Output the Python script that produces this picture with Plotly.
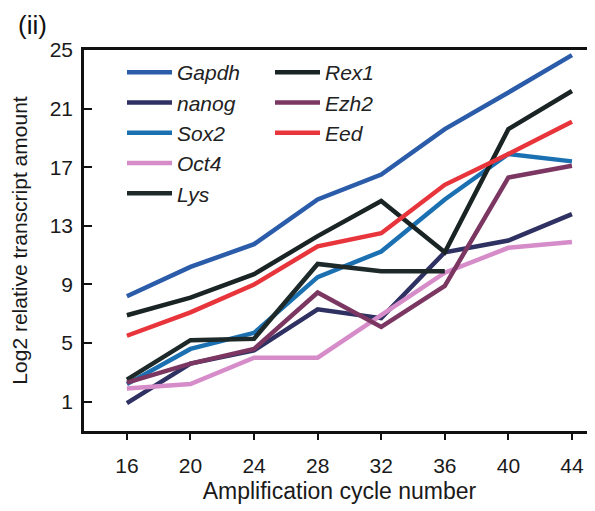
import plotly.graph_objects as go

cycles = [16, 20, 24, 28, 32, 36, 40, 44]
gapdh = [8.2, 10.2, 11.75, 14.8, 16.5, 19.6, 22.1, 24.65]
nanog = [0.9, 3.6, 4.5, 7.3, 6.7, 11.2, 12.0, 13.8]
sox2 = [2.2, 4.6, 5.7, 9.5, 11.25, 14.8, 17.9, 17.4]
oct4 = [1.9, 2.2, 4.0, 4.0, 6.9, 9.8, 11.5, 11.9]
lys = [2.5, 5.2, 5.3, 10.4, 9.9, 9.9]
rex1 = [6.9, 8.1, 9.7, 12.3, 14.7, 11.2, 19.6, 22.2]
ezh2 = [2.3, 3.6, 4.6, 8.45, 6.1, 8.9, 16.3, 17.1]
eed = [5.5, 7.1, 9.0, 11.6, 12.5, 15.8, 17.9, 20.1]

y_ticks = [1, 5, 9, 13, 17, 21, 25]

series = [
    ("Gapdh", cycles, gapdh, "#2B5CAA", "legend"),
    ("nanog", cycles, nanog, "#2F3163", "legend"),
    ("Sox2", cycles, sox2, "#1B70B2", "legend"),
    ("Oct4", cycles, oct4, "#D68CC8", "legend"),
    ("Lys", cycles[:len(lys)], lys, "#1E2A2A", "legend"),
    ("Rex1", cycles, rex1, "#1A2424", "legend2"),
    ("Ezh2", cycles, ezh2, "#7B3762", "legend2"),
    ("Eed", cycles, eed, "#E8343B", "legend2"),
]

fig = go.Figure()
for name, xs, ys, col, lg in series:
    fig.add_trace(go.Scatter(x=xs, y=ys, mode="lines", name=name,
                             line=dict(color=col, width=4.5), legend=lg))

font_family = "Liberation Sans, Arial, sans-serif"
legend_common = dict(
    bgcolor="rgba(0,0,0,0)", borderwidth=0,
    font=dict(family=font_family, size=21, color="#222", style="italic"),
    orientation="v", tracegroupgap=0, itemwidth=45,
    xanchor="left", yanchor="top", traceorder="normal",
)

# The page body has an 8px margin; figure sized to fit the 595x511 window.
# plot area in window: x 84..595, y 50..431  -> in figure: x 76..587, y 42..423
PW, PH = 511, 381
fig.update_layout(
    width=587, height=503,
    margin=dict(l=76, r=0, t=42, b=80),
    paper_bgcolor="white", plot_bgcolor="white",
    font=dict(family=font_family, size=21, color="#1a1a1a"),
    showlegend=True,
    legend=dict(x=(122 - 84) / PW, y=1 - (52 - 50) / PH, **legend_common),
    legend2=dict(x=(270 - 84) / PW, y=1 - (52 - 50) / PH, **legend_common),
    xaxis=dict(
        range=[13.3, 45.45], tickvals=cycles, ticks="outside", ticklen=6,
        tickwidth=1.5, tickcolor="#111", showline=True, linecolor="#111",
        linewidth=2.5, mirror=True, showgrid=False, zeroline=False,
        ticklabelstandoff=8, tickfont=dict(size=21), automargin=False,
        title=dict(text="Amplification cycle number", font=dict(size=23), standoff=7),
    ),
    yaxis=dict(
        range=[-1, 25], tickvals=y_ticks, ticks="inside", ticklen=8,
        tickwidth=1.5, tickcolor="#111", showline=True, linecolor="#111",
        linewidth=2.5, showgrid=False, zeroline=False, automargin=False,
        tickfont=dict(size=21), ticklabelstandoff=4,
        title=dict(text="Log2 relative transcript amount", font=dict(size=21), standoff=21),
    ),
    annotations=[dict(text="(ii)", x=(16 - 84) / PW, y=1 + (50 - 8) / PH,
                      xref="paper", yref="paper", xanchor="left", yanchor="top",
                      showarrow=False, font=dict(size=26, color="#111"))],
)

fig.write_html("out.html")
